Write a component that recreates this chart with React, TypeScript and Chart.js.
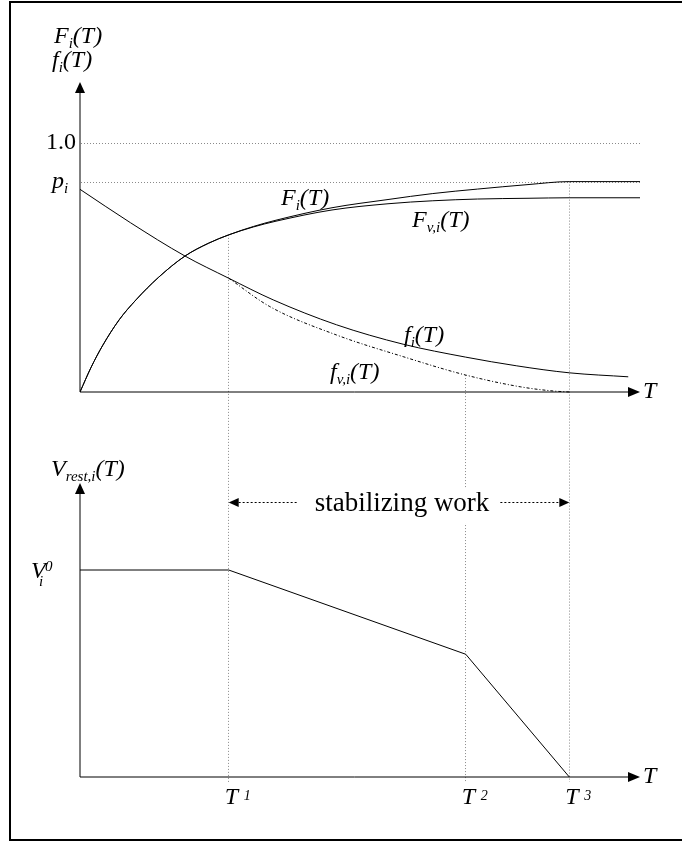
import React, { useEffect, useRef } from 'react';
import { Chart, registerables } from 'chart.js';

Chart.register(...registerables);

// ---------- data ----------
const T_MARKS = [2.655, 6.888, 8.738];
const T_MARK_LABELS = ['1', '2', '3'];
const ONE = 1.0;
const P_I = 0.845;
const X_MAX = 10;
const TOP_Y_MAX = 1.245;
const BOT_Y_MAX = 1.42;

const F_T = [0, 0.2, 0.4, 0.7, 1.0, 1.4, 1.875, 2.3, 2.655, 3.1, 3.5, 4.5, 5.5, 6.3, 7.1, 8.0, 8.738, 10];
const F_VAL = [0, 0.1, 0.185, 0.29, 0.37, 0.46, 0.546, 0.598, 0.631, 0.665, 0.69, 0.74, 0.773, 0.797, 0.815, 0.833, 0.845, 0.845];

const FV_T = [0, 0.2, 0.4, 0.7, 1.0, 1.4, 1.875, 2.3, 2.655, 3.1, 3.5, 4.5, 5.5, 6.3, 7.1, 8.0, 8.738, 10];
const FV_VAL = [0, 0.1, 0.185, 0.29, 0.37, 0.46, 0.546, 0.598, 0.631, 0.663, 0.686, 0.731, 0.756, 0.768, 0.775, 0.778, 0.78, 0.78];

const SF_T = [0, 0.9, 1.875, 2.655, 3.45, 4.58, 5.77, 6.888, 7.8, 8.738, 9.79];
const SF_VAL = [0.814, 0.68, 0.546, 0.457, 0.37, 0.27, 0.192, 0.14, 0.105, 0.077, 0.061];

const SFV_T = [2.655, 3.39, 4.58, 5.77, 6.888, 7.86, 8.45, 8.738];
const SFV_VAL = [0.457, 0.343, 0.229, 0.142, 0.068, 0.021, 0.004, 0];

const VREST_T = [0, 2.655, 6.888, 8.738];
const VREST_VAL = [1, 1, 0.593, 0];

// ---------- layout ----------
const W = 682;
const H = 841;
const PLOT_LEFT = 80;
const PLOT_RIGHT = 640;
const TOP_ZERO_PX = 392;
const TOP_UNIT_PX = 249;
const BOT_ZERO_PX = 777;
const BOT_UNIT_PX = 207;
const SERIF = '"Liberation Serif", "Times New Roman", serif';

type Run = { t: string; size?: number; dy?: number; italic?: boolean; dx?: number };

function drawRuns(ctx: CanvasRenderingContext2D, x: number, y: number, runs: Run[]) {
  let cx = x;
  for (const r of runs) {
    const size = r.size ?? 24;
    ctx.font = `${r.italic === false ? '' : 'italic '}${size}px ${SERIF}`;
    cx += r.dx ?? 0;
    ctx.fillText(r.t, cx, y + (r.dy ?? 0));
    cx += ctx.measureText(r.t).width;
  }
}

function valueAt(ts: number[], vs: number[], t: number) {
  for (let i = 0; i < ts.length - 1; i++) {
    if (t >= ts[i] && t <= ts[i + 1]) {
      const f = (t - ts[i]) / (ts[i + 1] - ts[i] || 1);
      return vs[i] + f * (vs[i + 1] - vs[i]);
    }
  }
  return vs[vs.length - 1];
}

const pts = (ts: number[], vs: number[]) => ts.map((t, i) => ({ x: t, y: vs[i] }));

const figurePlugin = {
  id: 'figure',
  beforeDatasetsDraw(chart: any) {
    const ctx: CanvasRenderingContext2D = chart.ctx;
    const xs = chart.scales.x;
    const yt = chart.scales.yTop;
    const yb = chart.scales.yBot;
    const x0 = Math.round(xs.getPixelForValue(0));
    const xEnd = Math.round(xs.getPixelForValue(X_MAX));
    ctx.save();
    ctx.strokeStyle = '#8a8a8a';
    ctx.lineWidth = 1;
    ctx.setLineDash([1, 2]);
    for (const v of [ONE, P_I]) {
      const y = Math.round(yt.getPixelForValue(v)) + 0.5;
      ctx.beginPath();
      ctx.moveTo(x0 + 1, y);
      ctx.lineTo(xEnd, y);
      ctx.stroke();
    }
    const starts = [valueAt(F_T, F_VAL, T_MARKS[0]), valueAt(SFV_T, SFV_VAL, T_MARKS[1]), P_I];
    const yBottom = Math.round(yb.getPixelForValue(0)) + 5;
    T_MARKS.forEach((t, i) => {
      const x = Math.floor(xs.getPixelForValue(t)) + 0.5;
      const yStart = yt.getPixelForValue(starts[i]);
      ctx.beginPath();
      ctx.moveTo(x, yStart);
      ctx.lineTo(x, yBottom);
      ctx.stroke();
    });
    ctx.restore();
  },
  afterDatasetsDraw(chart: any) {
    const ctx: CanvasRenderingContext2D = chart.ctx;
    const xs = chart.scales.x;
    const yt = chart.scales.yTop;
    const yb = chart.scales.yBot;
    const x0 = Math.round(xs.getPixelForValue(0));
    const xEnd = Math.round(xs.getPixelForValue(X_MAX));
    const yTop0 = Math.round(yt.getPixelForValue(0));
    const yBot0 = Math.round(yb.getPixelForValue(0));
    const tipTop = Math.round(yt.getPixelForValue(TOP_Y_MAX));
    const tipBot = Math.round(yb.getPixelForValue(BOT_Y_MAX));

    ctx.save();
    ctx.setLineDash([]);
    ctx.strokeStyle = '#000';
    ctx.fillStyle = '#000';
    ctx.lineWidth = 1;

    const xAxis = (y: number) => {
      ctx.beginPath();
      ctx.moveTo(x0, y);
      ctx.lineTo(xEnd - 11, y);
      ctx.stroke();
      ctx.beginPath();
      ctx.moveTo(xEnd, y);
      ctx.lineTo(xEnd - 12, y - 5);
      ctx.lineTo(xEnd - 12, y + 5);
      ctx.closePath();
      ctx.fill();
    };
    const yAxis = (yFrom: number, yTip: number) => {
      ctx.beginPath();
      ctx.moveTo(x0, yFrom);
      ctx.lineTo(x0, yTip + 10);
      ctx.stroke();
      ctx.beginPath();
      ctx.moveTo(x0, yTip);
      ctx.lineTo(x0 - 5, yTip + 11);
      ctx.lineTo(x0 + 5, yTip + 11);
      ctx.closePath();
      ctx.fill();
    };
    xAxis(yTop0);
    yAxis(yTop0, tipTop);
    xAxis(yBot0);
    yAxis(yBot0, tipBot);

    ctx.textBaseline = 'alphabetic';
    ctx.textAlign = 'left';

    // upper axis titles
    drawRuns(ctx, x0 - 26, tipTop - 39, [{ t: 'F' }, { t: 'i', size: 15, dy: 5 }, { t: '(T)' }]);
    drawRuns(ctx, x0 - 28, tipTop - 15, [{ t: 'f' }, { t: 'i', size: 15, dy: 5 }, { t: '(T)' }]);

    // upper y tick labels
    ctx.font = `24px ${SERIF}`;
    ctx.textAlign = 'right';
    ctx.fillText('1.0', x0 - 4, yt.getPixelForValue(ONE) + 6);
    ctx.textAlign = 'left';
    drawRuns(ctx, x0 - 28, yt.getPixelForValue(P_I) + 6, [{ t: 'p' }, { t: 'i', size: 15, dy: 5 }]);

    // curve labels (data anchors)
    const lab = (t: number, v: number, runs: Run[]) =>
      drawRuns(ctx, xs.getPixelForValue(t), yt.getPixelForValue(v), runs);
    lab(3.589, 0.751, [{ t: 'F' }, { t: 'i', size: 15, dy: 5 }, { t: '(T)' }]);
    lab(5.929, 0.663, [{ t: 'F' }, { t: 'v,i', size: 15, dy: 5 }, { t: '(T)' }]);
    lab(5.786, 0.201, [{ t: 'f' }, { t: 'i', size: 15, dy: 5 }, { t: '(T)' }]);
    lab(4.464, 0.052, [{ t: 'f' }, { t: 'v,i', size: 15, dy: 5 }, { t: '(T)' }]);

    // x axis "T" labels
    drawRuns(ctx, xEnd + 3, yTop0 + 6, [{ t: 'T' }]);
    drawRuns(ctx, xEnd + 3, yBot0 + 6, [{ t: 'T' }]);

    // lower axis title
    drawRuns(ctx, x0 - 29, tipBot - 7, [{ t: 'V' }, { t: 'rest,i', size: 15, dy: 5 }, { t: '(T)' }]);

    // V_i^0
    const yV = yb.getPixelForValue(1);
    drawRuns(ctx, x0 - 49, yV + 8, [{ t: 'V' }]);
    drawRuns(ctx, x0 - 35, yV + 1, [{ t: '0', size: 15 }]);
    drawRuns(ctx, x0 - 41, yV + 16, [{ t: 'i', size: 15 }]);

    // T^k tick labels
    T_MARKS.forEach((t, i) => {
      const x = xs.getPixelForValue(t);
      drawRuns(ctx, x - 4, yBot0 + 27, [{ t: 'T' }]);
      drawRuns(ctx, x + 15, yBot0 + 23, [{ t: T_MARK_LABELS[i], size: 14 }]);
    });

    // stabilizing work annotation
    const xT1 = xs.getPixelForValue(T_MARKS[0]);
    const xT3 = xs.getPixelForValue(T_MARKS[2]);
    const arrowY = Math.round(yb.getPixelForValue(1.33)) + 0.5;
    const text = 'stabilizing work';
    ctx.font = `27px ${SERIF}`;
    const tw = ctx.measureText(text).width;
    const tx = (xT1 + xT3) / 2 + 3 - tw / 2;
    const baseY = arrowY + 8;
    ctx.fillStyle = '#fff';
    ctx.fillRect(tx - 4, baseY - 22, tw + 7, 35);
    ctx.fillStyle = '#000';
    ctx.fillText(text, tx, baseY);

    ctx.setLineDash([2, 2]);
    ctx.beginPath();
    ctx.moveTo(tx - 18, arrowY);
    ctx.lineTo(xT1 + 9, arrowY);
    ctx.moveTo(tx + tw + 11, arrowY);
    ctx.lineTo(xT3 - 9, arrowY);
    ctx.stroke();
    ctx.setLineDash([]);
    ctx.beginPath();
    ctx.moveTo(xT1, arrowY);
    ctx.lineTo(xT1 + 10, arrowY - 4.5);
    ctx.lineTo(xT1 + 10, arrowY + 4.5);
    ctx.closePath();
    ctx.fill();
    ctx.beginPath();
    ctx.moveTo(xT3, arrowY);
    ctx.lineTo(xT3 - 10, arrowY - 4.5);
    ctx.lineTo(xT3 - 10, arrowY + 4.5);
    ctx.closePath();
    ctx.fill();

    ctx.restore();
  },
};

export default function App() {
  const ref = useRef<HTMLCanvasElement>(null);

  useEffect(() => {
    if (!ref.current) return;
    const curve = {
      borderColor: '#000',
      borderWidth: 1,
      pointRadius: 0,
      fill: false,
      cubicInterpolationMode: 'monotone' as const,
    };
    const chart = new Chart(ref.current, {
      type: 'line',
      data: {
        datasets: [
          { ...curve, label: 'f_v,i(T)', data: pts(SFV_T, SFV_VAL), yAxisID: 'yTop', borderDash: [3, 2, 1, 2] },
          { ...curve, label: 'f_i(T)', data: pts(SF_T, SF_VAL), yAxisID: 'yTop' },
          { ...curve, label: 'F_v,i(T)', data: pts(FV_T, FV_VAL), yAxisID: 'yTop' },
          { ...curve, label: 'F_i(T)', data: pts(F_T, F_VAL), yAxisID: 'yTop' },
          {
            label: 'V_rest,i(T)',
            data: pts(VREST_T, VREST_VAL),
            yAxisID: 'yBot',
            borderColor: '#000',
            borderWidth: 1,
            pointRadius: 0,
            fill: false,
            tension: 0,
          },
        ],
      },
      options: {
        responsive: false,
        maintainAspectRatio: false,
        animation: false,
        devicePixelRatio: 1,
        events: [],
        layout: { padding: { left: PLOT_LEFT, right: W - PLOT_RIGHT, top: 0, bottom: 0 } },
        plugins: { legend: { display: false }, tooltip: { enabled: false }, title: { display: false } },
        scales: {
          x: { type: 'linear', min: 0, max: X_MAX, display: false, bounds: 'data' },
          yTop: {
            type: 'linear',
            display: false,
            bounds: 'data',
            min: -(H - TOP_ZERO_PX) / TOP_UNIT_PX,
            max: TOP_ZERO_PX / TOP_UNIT_PX,
          },
          yBot: {
            type: 'linear',
            display: false,
            bounds: 'data',
            min: -(H - BOT_ZERO_PX) / BOT_UNIT_PX,
            max: BOT_ZERO_PX / BOT_UNIT_PX,
          },
        },
      },
      plugins: [figurePlugin],
    } as any);
    return () => chart.destroy();
  }, []);

  return (
    <div style={{ position: 'absolute', left: 0, top: 0, width: W, height: H, overflow: 'hidden', background: '#fff' }}>
      <canvas ref={ref} width={W} height={H} style={{ position: 'absolute', left: 0, top: 0, width: W, height: H }} />
      <div
        style={{
          position: 'absolute',
          left: 9,
          top: 1,
          width: W - 9,
          height: H - 1,
          boxSizing: 'border-box',
          borderTop: '2px solid #000',
          borderLeft: '2px solid #000',
          borderBottom: '2px solid #000',
          pointerEvents: 'none',
        }}
      />
    </div>
  );
}
